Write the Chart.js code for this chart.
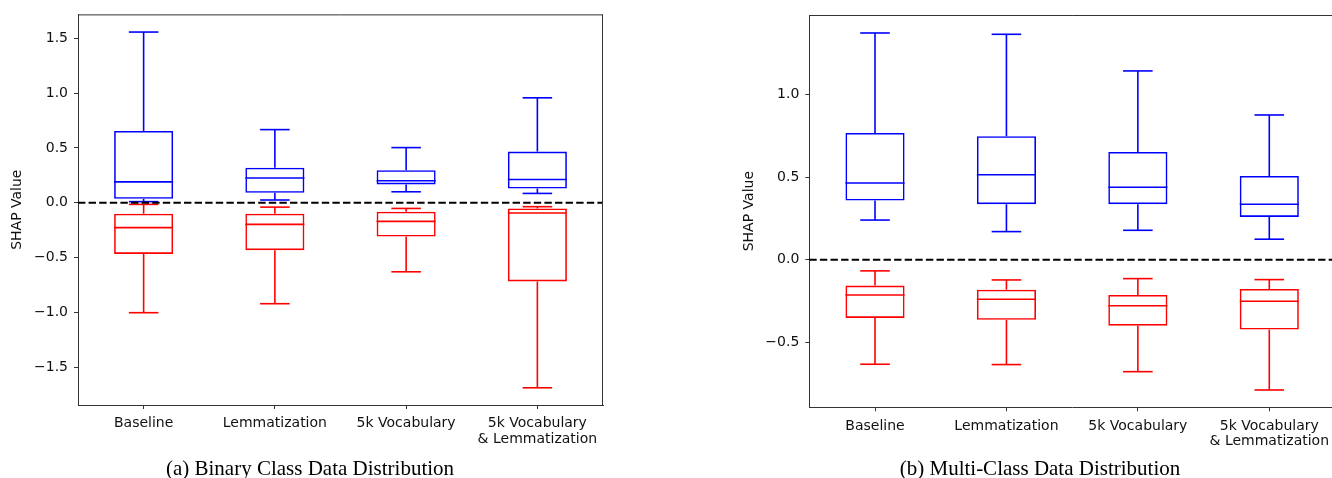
<!DOCTYPE html>
<html>
<head>
<meta charset="utf-8">
<script src="https://cdn.jsdelivr.net/npm/chart.js@4.4.1/dist/chart.umd.min.js"></script>
<style>
  html, body { margin: 0; padding: 0; background: #fff; }
  #wrap { position: relative; width: 1332px; height: 478px; overflow: hidden; background: #fff; }
  canvas { position: absolute; top: 0; }
  #c1 { left: 0; }
  #c2 { left: 680px; }
  .cap { position: absolute; top: 456px; height: 24px; line-height: 24px; text-align: center;
         font-family: "Liberation Serif", "DejaVu Serif", serif; font-size: 21px; color: #000; white-space: nowrap; }
</style>
</head>
<body>
<div id="wrap">
  <canvas id="c1" width="640" height="478"></canvas>
  <canvas id="c2" width="680" height="478"></canvas>
  <div class="cap" style="left:110px;width:400px;">(a) Binary Class Data Distribution</div>
  <div class="cap" style="left:840px;width:400px;">(b) Multi-Class Data Distribution</div>
</div>
<script>
// ---------- DATA ----------
const categories = ['Baseline', 'Lemmatization', '5k Vocabulary', ['5k Vocabulary', '& Lemmatization']];

// (a) Binary class – positive SHAP (blue)
const binPosMin = [0.010, 0.025, 0.100, 0.085];
const binPosQ1  = [0.036, 0.090, 0.167, 0.130];
const binPosMed = [0.190, 0.225, 0.200, 0.212];
const binPosQ3  = [0.655, 0.320, 0.297, 0.467];
const binPosMax = [1.557, 0.667, 0.503, 0.957];
// (a) Binary class – negative SHAP (red)
const binNegMax = [-0.015, -0.040, -0.052, -0.036];
const binNegQ3  = [-0.100, -0.100, -0.082, -0.052];
const binNegMed = [-0.227, -0.197, -0.170, -0.094];
const binNegQ1  = [-0.467, -0.433, -0.309, -0.718];
const binNegMin = [-1.003, -0.921, -0.630, -1.688];

// (b) Multi-class – positive SHAP (blue)
const mulPosMin = [0.240, 0.170, 0.178, 0.124];
const mulPosQ1  = [0.358, 0.336, 0.336, 0.259];
const mulPosMed = [0.465, 0.515, 0.439, 0.336];
const mulPosQ3  = [0.768, 0.748, 0.653, 0.507];
const mulPosMax = [1.374, 1.366, 1.144, 0.877];
// (b) Multi-class – negative SHAP (red)
const mulNegMax = [-0.068, -0.123, -0.115, -0.121];
const mulNegQ3  = [-0.157, -0.182, -0.214, -0.178];
const mulNegMed = [-0.214, -0.240, -0.279, -0.252];
const mulNegQ1  = [-0.353, -0.365, -0.400, -0.424];
const mulNegMin = [-0.634, -0.636, -0.679, -0.790];

const binYTicks = [-1.5, -1.0, -0.5, 0.0, 0.5, 1.0, 1.5];
const mulYTicks = [-0.5, 0.0, 0.5, 1.0];
const binYRange = [-1.845, 1.718];
const mulYRange = [-0.895, 1.483];
const referenceLine = 0;

// ---------- STYLE ----------
const BLUE = '#0000ff', RED = '#ff0000';
const BOX_FRAC = 0.45, CAP_FRAC = 0.225;
const FONT = 'DejaVu Sans';

function makeBoxPlugin(series) {
  return {
    id: 'boxLines',
    afterDatasetsDraw(chart) {
      const { ctx, chartArea, scales: { x, y } } = chart;
      const step = x.getPixelForValue(1) - x.getPixelForValue(0);
      const seg = (x1, y1, x2, y2) => { ctx.beginPath(); ctx.moveTo(x1, y1); ctx.lineTo(x2, y2); ctx.stroke(); };
      ctx.save();
      ctx.lineWidth = 1.6;
      ctx.lineCap = 'butt';
      series.forEach(s => {
        ctx.strokeStyle = s.color;
        s.med.forEach((m, i) => {
          const cx = x.getPixelForValue(i);
          const bw = step * BOX_FRAC / 2, cw = step * CAP_FRAC / 2;
          const yMax = y.getPixelForValue(s.max[i]), yQ3 = y.getPixelForValue(s.q3[i]);
          const yQ1 = y.getPixelForValue(s.q1[i]), yMin = y.getPixelForValue(s.min[i]);
          seg(cx, yQ3, cx, yMax);
          seg(cx - cw, yMax, cx + cw, yMax);
          seg(cx, yQ1, cx, yMin);
          seg(cx - cw, yMin, cx + cw, yMin);
          const yM = y.getPixelForValue(m);
          seg(cx - bw, yM, cx + bw, yM);
        });
      });
      // reference dashed line
      ctx.strokeStyle = '#000';
      ctx.lineWidth = 2;
      ctx.setLineDash([7.4, 3.2]);
      const y0 = y.getPixelForValue(referenceLine);
      seg(chartArea.left, y0, chartArea.right, y0);
      ctx.setLineDash([]);
      // top & right spines
      ctx.strokeStyle = '#333';
      ctx.lineWidth = 1;
      seg(chartArea.left, chartArea.top + 0.5, chartArea.right, chartArea.top + 0.5);
      seg(chartArea.right - 0.5, chartArea.top, chartArea.right - 0.5, chartArea.bottom);
      ctx.restore();
    }
  };
}

function makeChart(id, cfg) {
  const series = [
    { color: BLUE, min: cfg.pos[0], q1: cfg.pos[1], med: cfg.pos[2], q3: cfg.pos[3], max: cfg.pos[4] },
    { color: RED,  min: cfg.neg[0], q1: cfg.neg[1], med: cfg.neg[2], q3: cfg.neg[3], max: cfg.neg[4] }
  ];
  const boxDs = s => ({
    data: s.q1.map((q, i) => [q, s.q3[i]]),
    backgroundColor: 'rgba(0,0,0,0)',
    borderColor: s.color,
    borderWidth: 1.6,
    borderSkipped: false,
    grouped: false,
    barPercentage: BOX_FRAC,
    categoryPercentage: 1.0
  });
  return new Chart(document.getElementById(id), {
    type: 'bar',
    data: { labels: categories, datasets: series.map(boxDs) },
    options: {
      responsive: false,
      animation: false,
      devicePixelRatio: 1,
      layout: { padding: cfg.padding },
      plugins: { legend: { display: false }, tooltip: { enabled: false } },
      scales: {
        x: {
          type: 'category',
          offset: true,
          grid: { display: true, offset: false, drawOnChartArea: false, drawTicks: true, tickLength: 4, color: '#333' },
          border: { display: true, color: '#333', width: 1 },
          ticks: { color: '#111', padding: 7, maxRotation: 0, autoSkip: false,
                   font: { family: FONT, size: 14, lineHeight: 1.12 } },
          afterFit: sc => { sc.height = cfg.xHeight; }
        },
        y: {
          type: 'linear',
          min: cfg.yRange[0], max: cfg.yRange[1],
          grid: { display: true, drawOnChartArea: false, drawTicks: true, tickLength: 4, color: '#333' },
          border: { display: true, color: '#333', width: 1 },
          ticks: { color: '#111', padding: 6, font: { family: FONT, size: 14 },
                   callback: v => Number(v).toFixed(1).replace('-', '\u2212') },
          afterBuildTicks: sc => { sc.ticks = cfg.yTicks.map(v => ({ value: v })); },
          title: { display: true, text: 'SHAP Value', color: '#111',
                   font: { family: FONT, size: 14 }, padding: { top: 9, bottom: 0 } },
          afterFit: sc => { sc.width = cfg.yWidth; }
        }
      }
    },
    plugins: [makeBoxPlugin(series)]
  });
}

makeChart('c1', {
  pos: [binPosMin, binPosQ1, binPosMed, binPosQ3, binPosMax],
  neg: [binNegMin, binNegQ1, binNegMed, binNegQ3, binNegMax],
  yTicks: binYTicks, yRange: binYRange,
  padding: { left: 0, right: 37, top: 13, bottom: 0 },
  yWidth: 78, xHeight: 73
});
makeChart('c2', {
  pos: [mulPosMin, mulPosQ1, mulPosMed, mulPosQ3, mulPosMax],
  neg: [mulNegMin, mulNegQ1, mulNegMed, mulNegQ3, mulNegMax],
  yTicks: mulYTicks, yRange: mulYRange,
  padding: { left: 52, right: 25, top: 15, bottom: 0 },
  yWidth: 77.3, xHeight: 70.7
});
</script>
</body>
</html>
